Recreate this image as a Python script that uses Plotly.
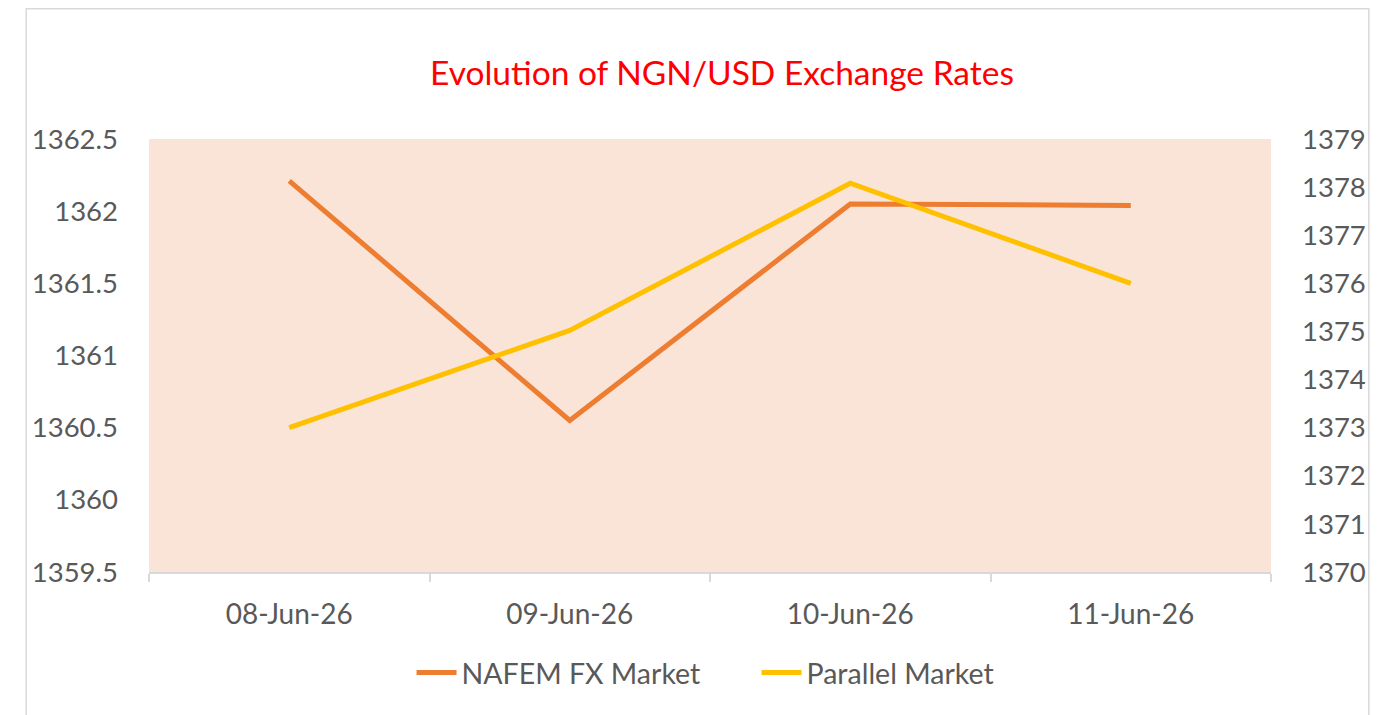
import plotly.graph_objects as go

dates = ["08-Jun-26", "09-Jun-26", "10-Jun-26", "11-Jun-26"]
nafem = [1362.21, 1360.55, 1362.05, 1362.04]
parallel = [1373.0, 1375.02, 1378.08, 1376.0]

left_ticks = [1359.5, 1360, 1360.5, 1361, 1361.5, 1362, 1362.5]
left_labels = ["1359.5", "1360", "1360.5", "1361", "1361.5", "1362", "1362.5"]
right_ticks = [1370, 1371, 1372, 1373, 1374, 1375, 1376, 1377, 1378, 1379]
right_labels = [str(v) for v in right_ticks]

FONT = "Lato"
GREY = "#595959"

# page is offset by 8px body margin
W, H = 1370, 707
L, T, R, B = 141, 131, 105, 143
PW = W - L - R
PH = H - T - B

fig = go.Figure()
fig.add_trace(go.Scatter(x=dates, y=nafem, name="NAFEM FX Market", mode="lines",
                         line=dict(color="#ED7D31", width=5), yaxis="y"))
fig.add_trace(go.Scatter(x=dates, y=parallel, name="Parallel Market", mode="lines",
                         line=dict(color="#FFC000", width=5), yaxis="y2"))

fig.update_layout(
    width=W, height=H,
    margin=dict(l=L, r=R, t=T, b=B),
    paper_bgcolor="white",
    plot_bgcolor="#FAE4D7",
    font=dict(family=FONT, color=GREY, size=27),
    title=dict(text="Evolution of NGN/USD Exchange Rates", x=(722 - 8) / W, xanchor="center",
               y=1 - 65 / H, yanchor="middle",
               font=dict(family=FONT, color="#FF0000", size=33.5)),
    xaxis=dict(type="category", range=[-0.5, 3.5], showgrid=False, showline=True,
               linecolor="#D9D9D9", linewidth=1.5, ticks="outside", tickson="boundaries",
               ticklen=8, tickcolor="#D9D9D9", tickwidth=1.5,
               ticklabelstandoff=17, tickfont=dict(size=28, color=GREY), zeroline=False),
    yaxis=dict(range=[1359.5, 1362.5], tickvals=left_ticks, ticktext=left_labels,
               showgrid=False, showline=False, zeroline=False, ticks="",
               ticklabelstandoff=30, tickfont=dict(size=27.5, color=GREY)),
    yaxis2=dict(range=[1370, 1379], tickvals=right_ticks, ticktext=right_labels,
                overlaying="y", side="right", showgrid=False, showline=False,
                zeroline=False, ticks="", ticklabelstandoff=30,
                tickfont=dict(size=27.5, color=GREY)),
    legend=dict(orientation="h", x=(397 - 8 - L + 15) / PW, xanchor="left",
                y=(564 - 665) / PH, yanchor="middle", font=dict(size=28.5, color=GREY),
                bgcolor="rgba(0,0,0,0)", itemwidth=40, entrywidth=290),
    showlegend=True,
    shapes=[dict(type="rect", xref="paper", yref="paper",
                 x0=(18 - L) / PW, x1=(1363 - L) / PW,
                 y0=(564 - 730) / PH, y1=(564 - 0.8) / PH,
                 line=dict(color="#D9D9D9", width=1.5), fillcolor="rgba(0,0,0,0)",
                 layer="below")],
)

fig.write_html("out.html")
